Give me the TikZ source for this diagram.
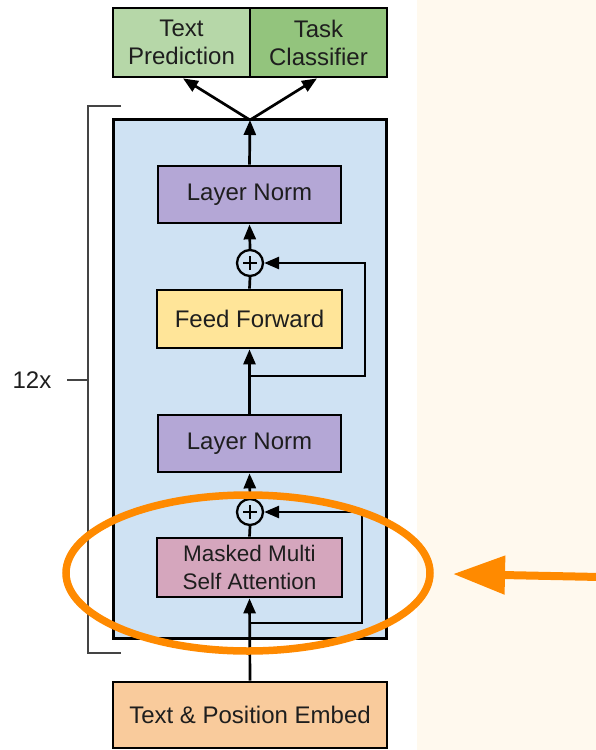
\documentclass[tikz,border=0pt]{standalone}
\usepackage{fontspec}
\setmainfont{Liberation Sans}
\usetikzlibrary{arrows.meta,calc}
\definecolor{cream}{HTML}{FFF9EE}
\definecolor{tpgreen}{HTML}{B6D7A8}
\definecolor{tcgreen}{HTML}{93C47D}
\definecolor{blockblue}{HTML}{CFE2F3}
\definecolor{lnpurple}{HTML}{B4A7D6}
\definecolor{ffyellow}{HTML}{FFE599}
\definecolor{msapink}{HTML}{D5A6BD}
\definecolor{embedorange}{HTML}{F9CB9C}
\definecolor{hiorange}{HTML}{FF8A00}
\definecolor{txt}{HTML}{1E1E1E}
\definecolor{brk}{HTML}{444444}
\begin{document}
\begin{tikzpicture}[x=1pt,y=-1pt,
  boxstyle/.style={draw=black, line width=2.8pt, inner sep=0pt, text=txt, align=center,
     font=\fontsize{24}{28}\selectfont},
  addstyle/.style={circle, draw=black, line width=2.3pt, fill=blockblue, minimum size=26pt, inner sep=0pt},
  conn/.style={draw=black, line width=2.7pt},
  arr/.style={conn, -{Triangle[length=15pt,width=12pt]}},
  bracketline/.style={draw=brk, line width=1.5pt}
]
\useasboundingbox (0,0) rectangle (596,750);
\fill[white] (0,0) rectangle (417,750);
\fill[cream] (417,0) rectangle (596,750);

% main block
\node[boxstyle, fill=blockblue, line width=3pt, minimum width=273pt, minimum height=519pt] (blk) at (249.5,379) {};

% inner nodes
\node[boxstyle, fill=lnpurple, minimum width=183pt, minimum height=57pt] (ln1) at (249.5,194.5) {Layer Norm};
\node[addstyle] (p1) at (250,263) {};
\node[boxstyle, fill=ffyellow, minimum width=185pt, minimum height=58pt] (ff) at (249.5,319) {Feed Forward};
\node[boxstyle, fill=lnpurple, minimum width=183pt, minimum height=57pt] (ln2) at (249.5,443.5) {Layer Norm};
\node[addstyle] (p2) at (250,512) {};
\node[boxstyle, fill=msapink, minimum width=185pt, minimum height=59pt,
      font=\fontsize{22.5}{27.5}\selectfont] (msa) at (249.5,567.5) {Masked Multi\\Self Attention};

% top and bottom nodes
\node[boxstyle, fill=tpgreen, minimum width=137pt, minimum height=69pt] (tp) at (181.5,42.5) {Text\\Prediction};
\node[boxstyle, fill=tcgreen, minimum width=137pt, minimum height=69pt] (tc) at (318.5,42.5) {Task\\Classifier};
\node[boxstyle, fill=embedorange, minimum width=274pt, minimum height=66pt] (tpe) at (250,715) {Text \& Position Embed};

% plus signs
\foreach \p in {p1,p2}{
  \draw[line width=2.2pt] ($(\p.center)+(-7,0)$) -- ($(\p.center)+(7,0)$);
  \draw[line width=2.2pt] ($(\p.center)+(0,-7)$) -- ($(\p.center)+(0,7)$);
}

% coordinates
\coordinate (top) at (250,120);
\coordinate (r1) at (250,376);
\coordinate (r1c) at (365,376);
\coordinate (r2) at (250,623);
\coordinate (r2c) at (362,623);

% connectors
\draw[arr] (tpe.north) -- (msa.south);
\draw[conn] (msa.north) -- (p2.south);
\draw[arr] (r2) -- (r2c) |- (p2.east);
\draw[arr] (p2.north) -- (ln2.south);
\draw[arr] (ln2.north) -- (ff.south);
\draw[conn] (ff.north) -- (p1.south);
\draw[arr] (r1) -- (r1c) |- (p1.east);
\draw[arr] (p1.north) -- (ln1.south);
\draw[arr] (ln1.north) -- (top);
\draw[arr] (top) -- ([xshift=1.5pt]tp.south);
\draw[arr] (top) -- ([xshift=-1.5pt]tc.south);

% bracket
\coordinate (bt) at (121,106);
\coordinate (btc) at (88,106);
\coordinate (bb) at (121,653);
\coordinate (bbc) at (88,653);
\coordinate (bm) at (88,380);
\draw[bracketline] (bt) -- (btc) -- (bbc) -- (bb);
\node[text=txt, font=\fontsize{24}{28}\selectfont, inner sep=0pt] (rep) at (32,380) {12x};
\coordinate (repend) at (67,380);
\draw[bracketline] (repend) -- (bm);

% highlight
\draw[hiorange, line width=7.5pt] (248,573) ellipse [x radius=182pt, y radius=78pt];
\coordinate (hstart) at (600,577);
\coordinate (htip) at (453,574);
\draw[hiorange, line width=8pt, -{Triangle[length=52pt,width=37pt]}] (hstart) -- (htip);
\end{tikzpicture}
\end{document}
